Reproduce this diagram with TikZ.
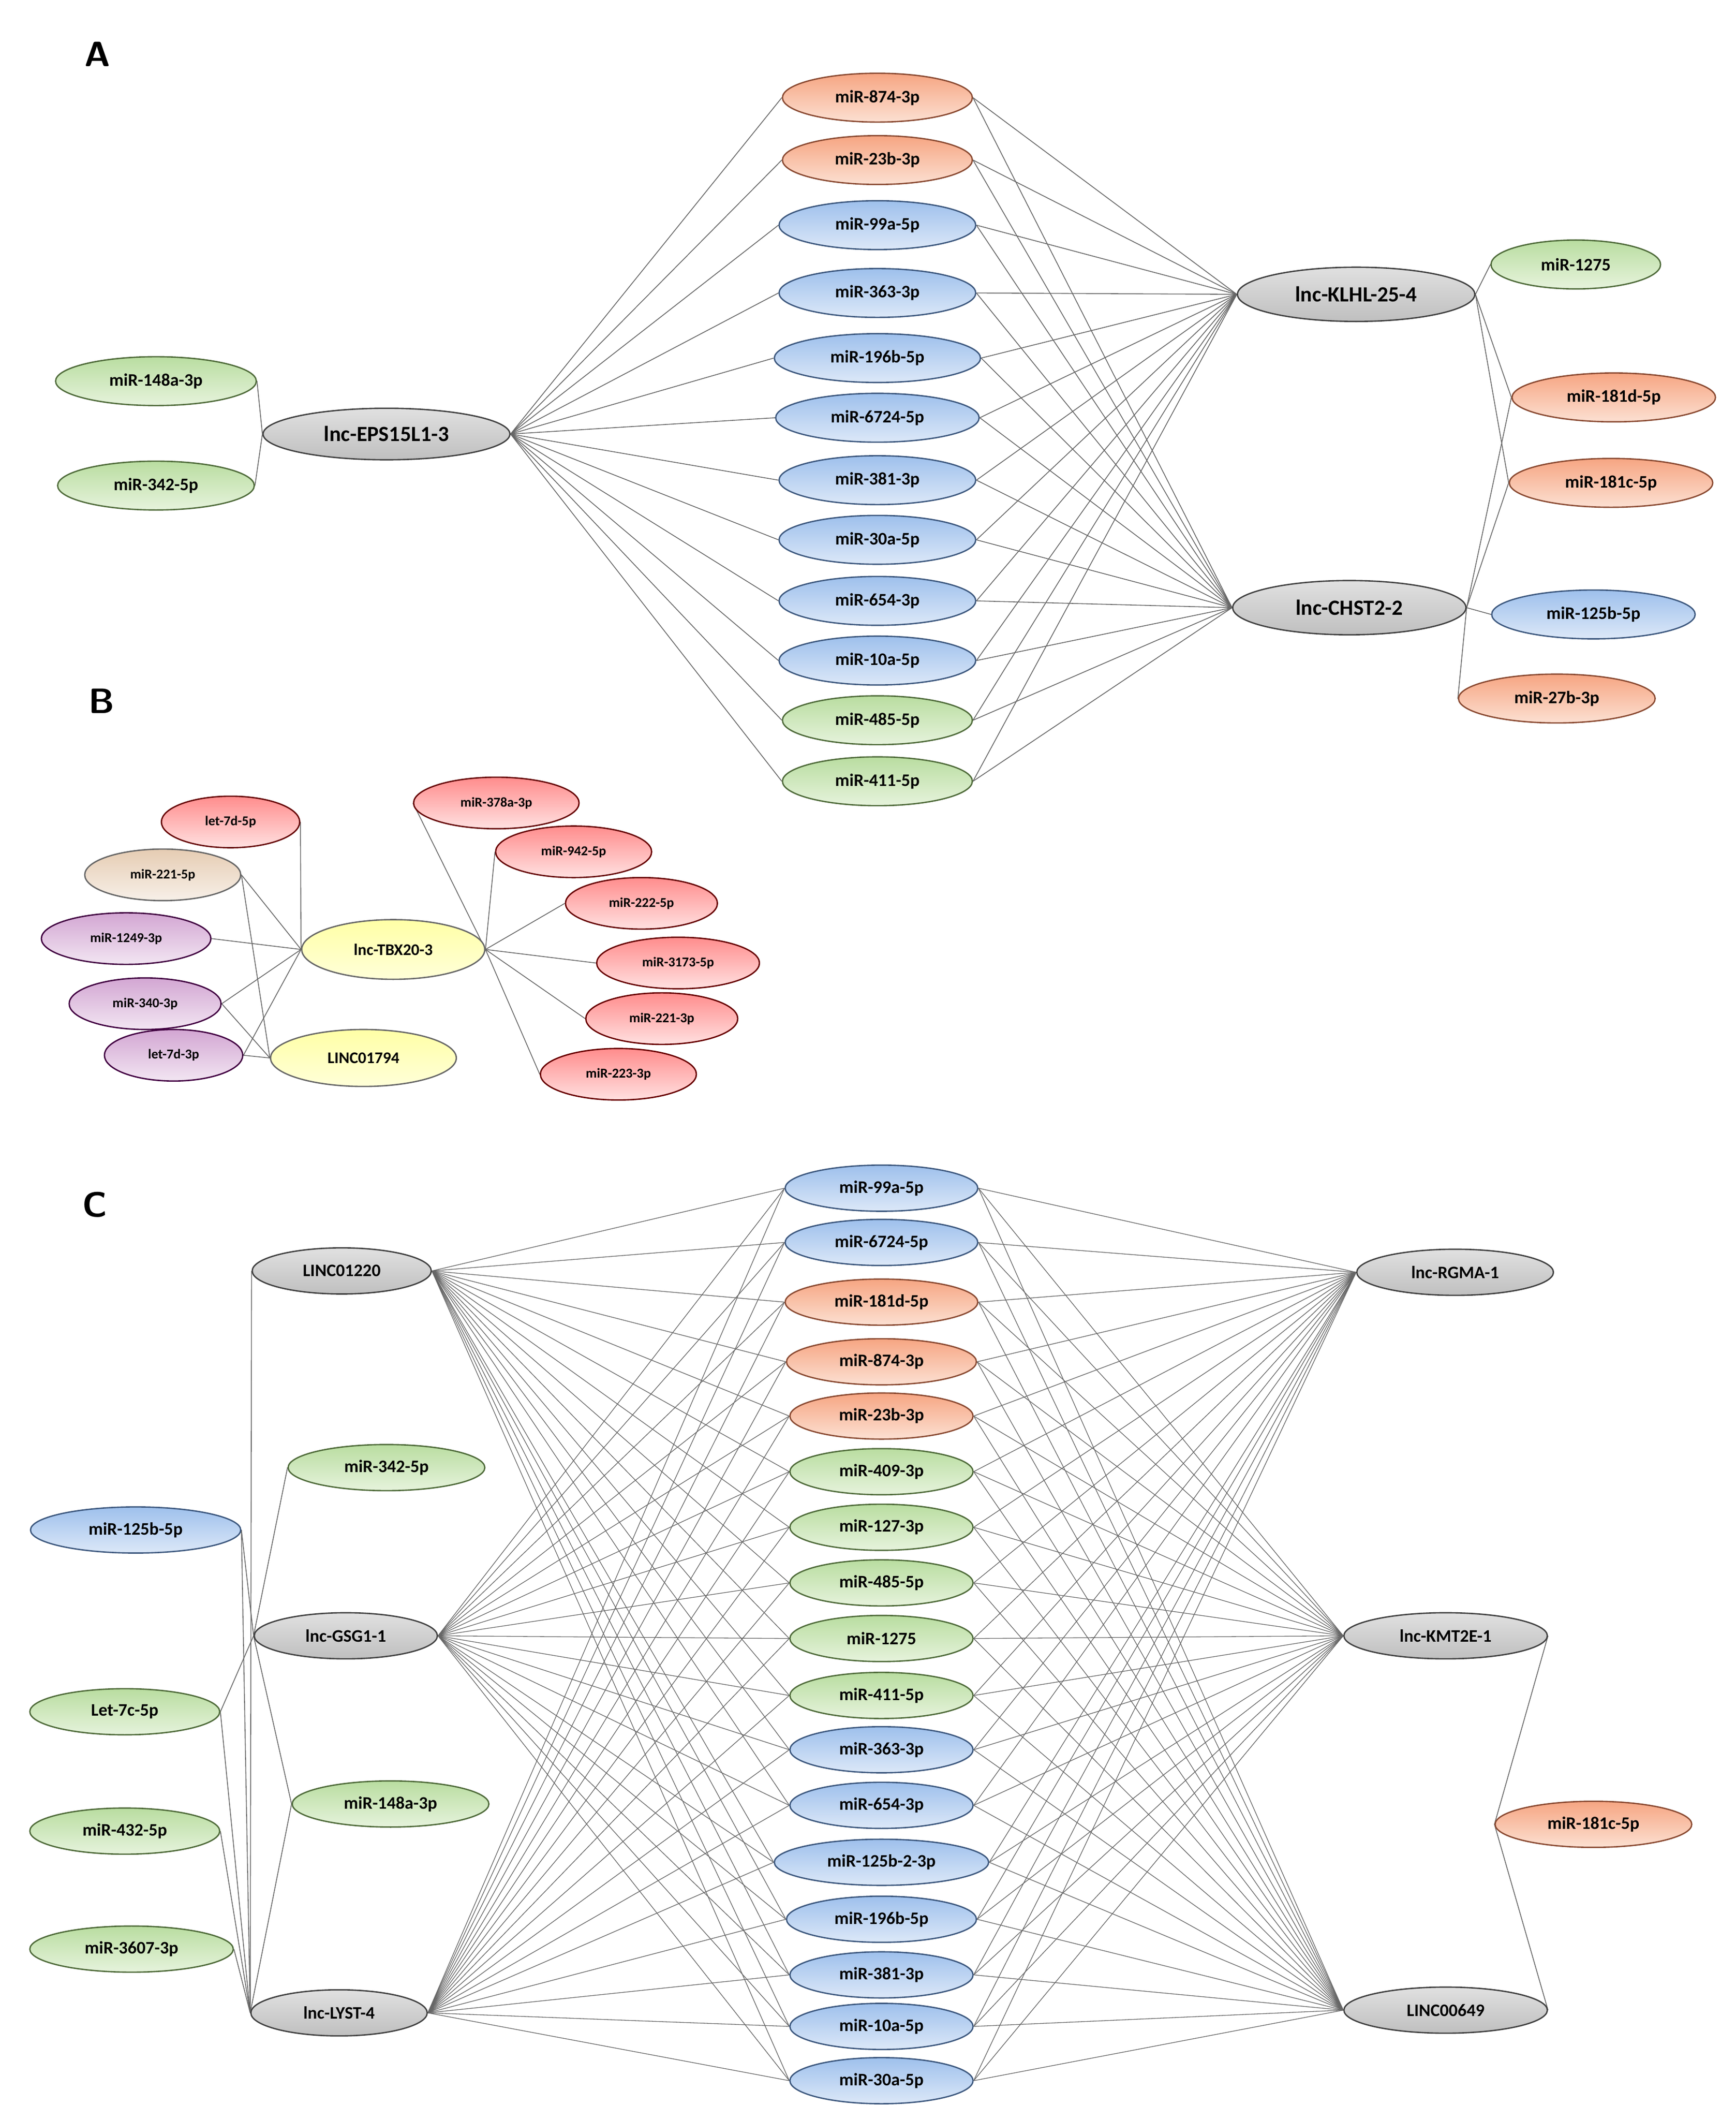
\documentclass[tikz,border=0pt]{standalone}
\usepackage{fontspec}
\setmainfont{Carlito}
\usetikzlibrary{shapes.geometric,backgrounds}
\definecolor{grT}{HTML}{B9DDA0}\definecolor{grB}{HTML}{E6F3DC}\definecolor{grD}{HTML}{4F6B3A}
\definecolor{blT}{HTML}{9EC0EC}\definecolor{blB}{HTML}{DCE8F8}\definecolor{blD}{HTML}{3D587E}
\definecolor{saT}{HTML}{F6A582}\definecolor{saB}{HTML}{FCE0D2}\definecolor{saD}{HTML}{8A4A32}
\begin{document}
\begin{tikzpicture}[x=1pt,y=-1pt,
  base/.style={ellipse,draw,line width=1pt,inner sep=0pt,font=\bfseries\fontsize{13}{15}\selectfont,minimum height=36},
  gr/.style={base,draw=grD,top color=grT,bottom color=grB},
  bl/.style={base,draw=blD,top color=blT,bottom color=blB},
  sa/.style={base,draw=saD,top color=saT,bottom color=saB},
  gy/.style={base,draw=black!75,top color=black!12,bottom color=black!25},
  rd/.style={base,draw=red!40!black,top color=red!45!white,bottom color=red!12!white,font=\bfseries\fontsize{10}{12}\selectfont,minimum height=38},
  br/.style={rd,draw=black!60,top color=brown!40!white,bottom color=brown!12!white},
  pu/.style={rd,draw=violet!50!black,top color=violet!35!white,bottom color=violet!10!white},
  ye/.style={rd,draw=black!60,top color=yellow!35!white,bottom color=yellow!15!white,minimum height=42},
  ed/.style={draw=black!60,line width=0.6pt},
  ch/.style={minimum height=34},
  lab/.style={font=\bfseries\sffamily\fontsize{26}{28}\selectfont}]
\useasboundingbox (0,0) rectangle (1280,1563);
\node[lab] (LA) at (72,40) {A};
\node[lab] (LB) at (75,517) {B};
\node[lab] (LC) at (70,888) {C};
% ---------- A
\foreach \n/\t/\y/\s/\w in {1/miR-874-3p/72/sa/140,2/miR-23b-3p/118/sa/140,3/miR-99a-5p/166/bl/145,4/miR-363-3p/216/bl/145,5/miR-196b-5p/264/bl/152,6/miR-6724-5p/308/bl/150,7/miR-381-3p/354/bl/145,8/miR-30a-5p/398/bl/145,9/miR-654-3p/443/bl/145,10/miR-10a-5p/487/bl/145,11/miR-485-5p/531/gr/140,12/miR-411-5p/576/gr/140}
  \node[\s,minimum width=\w] (a\n) at (647,\y) {\t};
\node[gy,minimum width=182,minimum height=38,font=\bfseries\fontsize{16}{18}\selectfont] (eps) at (285,320) {lnc-EPS15L1-3};
\node[gr,minimum width=148] (a148) at (115,281) {miR-148a-3p};
\node[gr,minimum width=145] (a342) at (115,358) {miR-342-5p};
\node[gy,minimum width=175,minimum height=40,font=\bfseries\fontsize{16}{18}\selectfont] (klhl) at (1000,217) {lnc-KLHL-25-4};
\node[gy,minimum width=172,minimum height=40,font=\bfseries\fontsize{16}{18}\selectfont] (chst) at (995,448) {lnc-CHST2-2};
\node[gr,minimum width=125] (a1275) at (1162,195) {miR-1275};
\node[sa,minimum width=150] (a181d) at (1190,293) {miR-181d-5p};
\node[sa,minimum width=150] (a181c) at (1188,356) {miR-181c-5p};
\node[bl,minimum width=150] (a125b) at (1175,453) {miR-125b-5p};
\node[sa,minimum width=145] (a27b) at (1148,515) {miR-27b-3p};
% ---------- B
\node[rd,minimum width=102] (b1) at (170,606) {let-7d-5p};
\node[br,minimum width=115] (b2) at (120,645) {miR-221-5p};
\node[pu,minimum width=125] (b3) at (93,692) {miR-1249-3p};
\node[pu,minimum width=112] (b4) at (107,740) {miR-340-3p};
\node[pu,minimum width=102] (b5) at (128,778) {let-7d-3p};
\node[ye,minimum width=135,minimum height=44,font=\bfseries\fontsize{12}{14}\selectfont] (tbx) at (290,700) {lnc-TBX20-3};
\node[ye,minimum width=137,font=\bfseries\fontsize{12}{14}\selectfont] (linc1794) at (268,780) {LINC01794};
\node[rd,minimum width=122] (b6) at (366,592) {miR-378a-3p};
\node[rd,minimum width=115] (b7) at (423,628) {miR-942-5p};
\node[rd,minimum width=112] (b8) at (473,666) {miR-222-5p};
\node[rd,minimum width=120] (b9) at (500,710) {miR-3173-5p};
\node[rd,minimum width=112] (b10) at (488,751) {miR-221-3p};
\node[rd,minimum width=115] (b11) at (456,792) {miR-223-3p};
% ---------- C
\foreach \n/\t/\y/\s/\w in {1/miR-99a-5p/876/bl/142,2/miR-6724-5p/916/bl/142,3/miR-181d-5p/960/sa/142,4/miR-874-3p/1004/sa/140,5/miR-23b-3p/1044/sa/135,6/miR-409-3p/1085/gr/135,7/miR-127-3p/1126/gr/135,8/miR-485-5p/1167/gr/135,9/miR-1275/1208/gr/135,10/miR-411-5p/1250/gr/135,11/miR-363-3p/1290/bl/135,12/miR-654-3p/1331/bl/135,13/miR-125b-2-3p/1373/bl/158,14/miR-196b-5p/1415/bl/140,15/miR-381-3p/1456/bl/135,16/miR-10a-5p/1494/bl/135,17/miR-30a-5p/1534/bl/135}
  \node[\s,ch,minimum width=\w] (c\n) at (650,\y) {\t};
\node[gy,ch,minimum width=132] (l1220) at (252,937) {LINC01220};
\node[gy,ch,minimum width=135] (gsg) at (255,1206) {lnc-GSG1-1};
\node[gy,ch,minimum width=130] (lyst) at (250,1484) {lnc-LYST-4};
\node[gr,ch,minimum width=145] (c342) at (285,1082) {miR-342-5p};
\node[gr,ch,minimum width=145] (c148) at (288,1330) {miR-148a-3p};
\node[bl,ch,minimum width=155] (c125) at (100,1128) {miR-125b-5p};
\node[gr,ch,minimum width=140] (c7c) at (92,1262) {Let-7c-5p};
\node[gr,ch,minimum width=140] (c432) at (92,1350) {miR-432-5p};
\node[gr,ch,minimum width=150] (c3607) at (97,1437) {miR-3607-3p};
\node[gy,ch,minimum width=145] (rgma) at (1073,938) {lnc-RGMA-1};
\node[gy,ch,minimum width=150] (kmt) at (1066,1206) {lnc-KMT2E-1};
\node[gy,ch,minimum width=150] (l649) at (1066,1482) {LINC00649};
\node[sa,ch,minimum width=145] (c181c) at (1175,1345) {miR-181c-5p};
\begin{scope}[on background layer]
\fill[white] (0,0) rectangle (1280,1563);
\foreach \n in {1,...,12} {\draw[ed] (eps.east) -- (a\n.west); \draw[ed] (a\n.east) -- (klhl.west); \draw[ed] (a\n.east) -- (chst.west);}
\draw[ed] (a148.east) -- (eps.west); \draw[ed] (a342.east) -- (eps.west);
\foreach \m in {a1275,a181d,a181c} \draw[ed] (klhl.east) -- (\m.west);
\foreach \m in {a181d,a181c,a125b,a27b} \draw[ed] (chst.east) -- (\m.west);
\foreach \n in {1,...,5} \draw[ed] (b\n.east) -- (tbx.west);
\foreach \n in {2,4,5} \draw[ed] (b\n.east) -- (linc1794.west);
\foreach \n in {6,...,11} \draw[ed] (tbx.east) -- (b\n.west);
\foreach \n in {1,...,17} {
  \foreach \L in {l1220,gsg,lyst} \draw[ed,line width=0.5pt] (\L.east) -- (c\n.west);
  \foreach \R in {rgma,kmt,l649} \draw[ed,line width=0.5pt] (c\n.east) -- (\R.west);}
\draw[ed] (l1220.west) -- (lyst.west);
\draw[ed] (c125.east) -- (gsg.west); \draw[ed] (c125.east) -- (lyst.west);
\draw[ed] (c342.west) -- (gsg.west);
\draw[ed] (c7c.east) -- (gsg.west); \draw[ed] (c7c.east) -- (lyst.west);
\draw[ed] (gsg.west) -- (c148.west); \draw[ed] (c148.west) -- (lyst.west);
\draw[ed] (c432.east) -- (lyst.west); \draw[ed] (c3607.east) -- (lyst.west);
\draw[ed] (kmt.east) -- (c181c.west); \draw[ed] (c181c.west) -- (l649.east);
\end{scope}
\end{tikzpicture}
\end{document}
